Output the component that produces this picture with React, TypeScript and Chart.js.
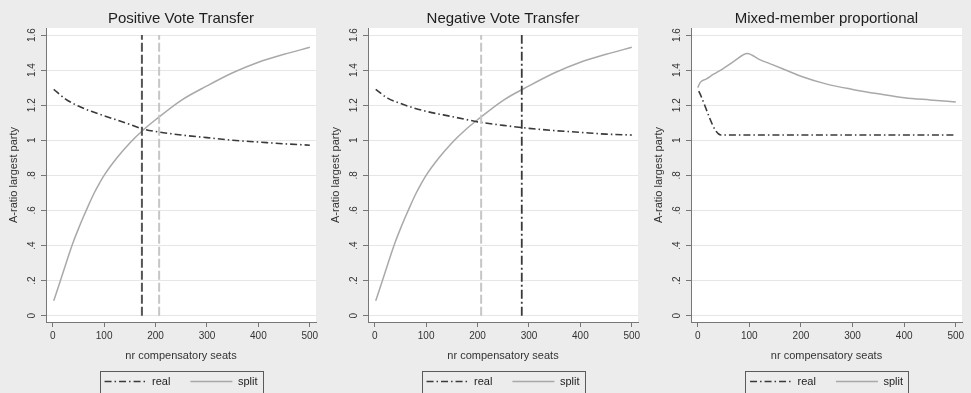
import React, { useEffect, useRef } from "react";
import { Chart, registerables } from "chart.js";

Chart.register(...registerables);
Chart.defaults.font.family = "'Liberation Sans', Arial, Helvetica, sans-serif";

// ---------- data ----------
const xTickValues = [0, 100, 200, 300, 400, 500];
const yTickValues = [0, 0.2, 0.4, 0.6, 0.8, 1, 1.2, 1.4, 1.6];
const panelTitles = ["Positive Vote Transfer", "Negative Vote Transfer", "Mixed-member proportional"];
const seriesNames = ["real", "split"];
const xAxisTitle = "nr compensatory seats";
const yAxisTitle = "A-ratio largest party";

// split curve (same in the two vote-transfer panels)
const splitSeats = [2, 10, 20, 30, 40, 50, 60, 70, 80, 90, 100, 125, 150, 175, 200, 250, 300, 350, 400, 450, 500];
const pvtSplit = [0.085, 0.155, 0.245, 0.335, 0.42, 0.495, 0.565, 0.632, 0.695, 0.75, 0.8, 0.9, 0.985, 1.056, 1.117, 1.228, 1.31, 1.385, 1.445, 1.49, 1.53];
const nvtSplit = [0.085, 0.155, 0.245, 0.335, 0.42, 0.495, 0.565, 0.632, 0.695, 0.75, 0.8, 0.9, 0.985, 1.056, 1.117, 1.228, 1.31, 1.385, 1.445, 1.49, 1.53];

// real curves
const realSeats = [2, 25, 50, 75, 100, 150, 175, 200, 250, 300, 350, 400, 450, 500];
const pvtReal = [1.29, 1.235, 1.195, 1.165, 1.14, 1.09, 1.065, 1.05, 1.03, 1.015, 1.0, 0.99, 0.98, 0.972];
const nvtReal = [1.29, 1.24, 1.21, 1.185, 1.165, 1.135, 1.12, 1.105, 1.085, 1.068, 1.055, 1.045, 1.035, 1.03];

// mixed-member proportional
const mmpSplitSeats = [0, 5, 17, 30, 50, 70, 96, 120, 146, 175, 200, 250, 300, 350, 400, 450, 500];
const mmpSplit = [1.3, 1.33, 1.35, 1.375, 1.41, 1.45, 1.495, 1.46, 1.43, 1.395, 1.365, 1.32, 1.29, 1.265, 1.243, 1.23, 1.218];
const mmpRealSeats = [2, 45, 100, 200, 300, 400, 500];
const mmpReal = [1.28, 1.03, 1.03, 1.03, 1.03, 1.03, 1.03];

// vertical reference lines (seats)
const pvtRealMark = 173.5;
const pvtSplitMark = 207;
const nvtSplitMark = 207;
const nvtRealMark = 286;

// ---------- styles ----------
const realStyle = { borderColor: "#3a3a3a", borderWidth: 1.6, borderDash: [7, 3, 1.5, 3] };
const splitStyle = { borderColor: "#a9a9a9", borderWidth: 1.5, borderDash: [] as number[] };
const darkDash = { borderColor: "#555555", borderWidth: 2, borderDash: [9, 3] };
const darkDashDot = { borderColor: "#3a3a3a", borderWidth: 1.8, borderDash: [9, 3, 2, 3] };
const lightDash = { borderColor: "#c6c6c6", borderWidth: 2, borderDash: [9, 3] };

const pts = (xs: number[], ys: number[]) => xs.map((x, i) => ({ x, y: ys[i] }));
const vline = (x: number) => [
  { x, y: yTickValues[0] },
  { x, y: yTickValues[yTickValues.length - 1] },
];

const curve = (label: string, data: any[], style: any) => ({
  label,
  data,
  ...style,
  fill: false,
  pointRadius: 0,
  cubicInterpolationMode: "monotone",
});
const marker = (label: string, x: number, style: any) => ({
  label,
  data: vline(x),
  ...style,
  fill: false,
  pointRadius: 0,
});

const panelDatasets = [
  [
    marker("real-mark", pvtRealMark, darkDash),
    marker("split-mark", pvtSplitMark, lightDash),
    curve(seriesNames[0], pts(realSeats, pvtReal), realStyle),
    curve(seriesNames[1], pts(splitSeats, pvtSplit), splitStyle),
  ],
  [
    marker("split-mark", nvtSplitMark, lightDash),
    marker("real-mark", nvtRealMark, darkDashDot),
    curve(seriesNames[0], pts(realSeats, nvtReal), realStyle),
    curve(seriesNames[1], pts(splitSeats, nvtSplit), splitStyle),
  ],
  [
    curve(seriesNames[0], pts(mmpRealSeats, mmpReal), realStyle),
    curve(seriesNames[1], pts(mmpSplitSeats, mmpSplit), splitStyle),
  ],
];

// ---------- layout ----------
const CANVAS_H = 397;
const panelLayout = [
  { left: 0, width: 330, padRight: 14 },
  { left: 322, width: 330, padRight: 14 },
  { left: 645, width: 326, padRight: 9 },
];

const fmtY = (v: number) => {
  const s = (Math.round(v * 10) / 10).toString();
  return s.startsWith("0.") ? s.slice(1) : s;
};

const plotBg = {
  id: "plotBg",
  beforeDraw(chart: any) {
    const { ctx, chartArea: a } = chart;
    ctx.save();
    ctx.fillStyle = "#ffffff";
    ctx.fillRect(a.left, a.top, a.right - a.left, a.bottom - a.top);
    ctx.restore();
  },
};

const legendFrame = {
  id: "legendFrame",
  afterDraw(chart: any) {
    const hb = chart.legend && chart.legend.legendHitBoxes;
    if (!hb || !hb.length) return;
    const l = Math.min(...hb.map((h: any) => h.left)) - 5;
    const r = Math.max(...hb.map((h: any) => h.left + h.width)) + 5;
    const t = hb[0].top - 5.5;
    const b = hb[0].top + hb[0].height + 5.5;
    const ctx = chart.ctx;
    ctx.save();
    ctx.strokeStyle = "#5a5a5a";
    ctx.lineWidth = 1;
    ctx.setLineDash([]);
    ctx.strokeRect(Math.round(l) + 0.5, Math.round(t) + 0.5, Math.round(r - l), Math.round(b - t));
    ctx.restore();
  },
};

const legendLabels = (chart: any) =>
  chart.data.datasets
    .map((ds: any, i: number) => ({
      text: ds.label,
      datasetIndex: i,
      hidden: false,
      fillStyle: ds.borderColor,
      strokeStyle: ds.borderColor,
      lineWidth: ds.borderWidth,
      lineDash: ds.borderDash,
      lineCap: "butt",
      pointStyle: "line",
      fontColor: "#222",
    }))
    .filter((it: any) => seriesNames.includes(it.text));

function Panel({ index }: { index: number }) {
  const ref = useRef<HTMLCanvasElement | null>(null);
  const lay = panelLayout[index];
  useEffect(() => {
    if (!ref.current) return;
    const chart = new Chart(ref.current, {
      type: "line",
      data: { datasets: panelDatasets[index] as any },
      options: {
        animation: false,
        responsive: false,
        maintainAspectRatio: false,
        layout: { padding: { left: 0, right: lay.padRight, top: 0, bottom: 0 } },
        plugins: {
          title: {
            display: true,
            text: panelTitles[index],
            fullSize: false,
            color: "#1e1e1e",
            font: { size: 15, weight: "normal" },
            padding: { top: 10, bottom: 0 },
          },
          legend: {
            position: "bottom",
            fullSize: false,
            labels: {
              usePointStyle: true,
              pointStyle: "line",
              pointStyleWidth: 42,
              padding: 20,
              color: "#222",
              font: { size: 11 },
              generateLabels: legendLabels,
            },
          },
          tooltip: { enabled: false },
        },
        scales: {
          x: {
            type: "linear",
            min: -13,
            max: 512,
            afterBuildTicks: (axis: any) => {
              axis.ticks = xTickValues.map((v) => ({ value: v }));
            },
            afterFit: (axis: any) => {
              axis.height = 34;
            },
            ticks: { color: "#333", font: { size: 10 }, padding: 3 },
            grid: { drawOnChartArea: false, tickLength: 5, tickColor: "#777" },
            border: { color: "#777" },
            title: {
              display: true,
              text: xAxisTitle,
              color: "#333",
              font: { size: 11 },
              padding: { top: 0, bottom: -6.6 },
            },
          },
          y: {
            type: "linear",
            min: -0.036,
            max: 1.64,
            afterBuildTicks: (axis: any) => {
              axis.ticks = yTickValues.map((v) => ({ value: v }));
            },
            afterFit: (axis: any) => {
              axis.width = 46;
            },
            ticks: {
              color: "#333",
              font: { size: 10 },
              padding: 2,
              minRotation: 90,
              maxRotation: 90,
              crossAlign: "center",
              callback: (v: any) => fmtY(Number(v)),
            },
            grid: { color: "#e6e6e6", tickLength: 5, tickColor: "#777" },
            border: { color: "#777" },
            title: {
              display: true,
              text: yAxisTitle,
              color: "#333",
              font: { size: 11 },
              padding: { top: 7.4, bottom: 0 },
            },
          },
        },
      } as any,
      plugins: [plotBg, legendFrame],
    });
    return () => chart.destroy();
  }, [index]);
  return (
    <canvas
      ref={ref}
      width={lay.width}
      height={CANVAS_H}
      style={{ position: "absolute", left: lay.left, top: 0, width: lay.width, height: CANVAS_H }}
    />
  );
}

export default function App() {
  return (
    <div
      style={{
        position: "fixed",
        left: 0,
        top: 0,
        width: 971,
        height: 393,
        overflow: "hidden",
        background: "#ececec",
      }}
    >
      {panelTitles.map((_, i) => (
        <Panel key={i} index={i} />
      ))}
    </div>
  );
}
